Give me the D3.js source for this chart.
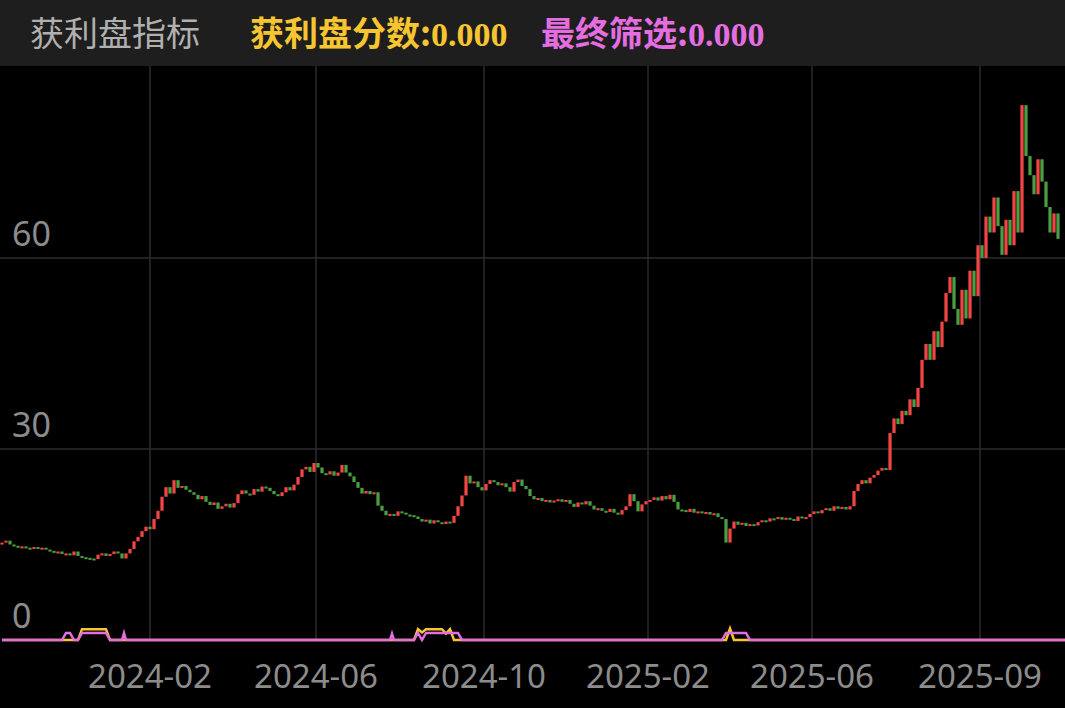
<!DOCTYPE html>
<html><head><meta charset="utf-8">
<script src="https://cdn.jsdelivr.net/npm/d3@7"></script>
<style>body{margin:0;background:#000;}svg{display:block;}</style>
</head><body>
<svg id="chart" width="1065" height="708"></svg>
<script>
// daily closes, oldest first
var closes = [
	15.3,15.6,15.0,14.8,14.6,14.7,14.5,14.4,14.6,14.3,
	14.5,14.2,14.0,13.8,13.9,13.5,13.6,13.3,13.9,13.2,
	13.0,12.9,12.8,12.7,13.4,13.6,13.2,13.5,13.9,13.6,
	12.8,13.6,14.3,15.5,16.2,17.1,17.8,17.4,19.0,20.3,
	22.5,24.0,23.0,25.1,23.9,24.2,23.6,23.2,22.8,22.1,
	22.6,21.7,21.2,21.6,20.6,21.0,21.4,20.8,21.5,22.9,
	23.5,23.0,22.8,23.7,23.3,24.1,23.9,23.4,22.9,22.6,
	23.2,24.0,23.5,24.4,25.6,26.8,27.2,26.4,27.8,27.1,
	26.2,26.0,26.5,25.8,26.3,27.5,26.3,25.7,24.8,23.9,
	23.0,23.4,22.9,23.2,21.1,20.3,19.6,19.8,19.5,20.2,
	20.0,19.7,19.6,19.4,19.0,18.6,18.9,18.3,18.8,18.5,
	18.2,18.6,18.4,19.5,21.0,22.7,25.8,24.6,24.9,24.0,
	23.5,24.5,25.1,24.8,24.3,24.6,24.0,23.3,24.8,25.2,
	24.2,23.7,22.6,22.1,22.3,21.8,22.0,21.6,21.9,22.1,
	21.7,22.0,21.4,20.9,21.6,21.3,21.8,21.1,20.5,20.7,
	20.3,20.1,20.6,20.0,19.7,20.4,21.0,22.9,21.8,20.2,
	21.3,21.8,22.0,22.4,21.9,22.6,22.1,22.8,21.7,20.5,
	20.4,20.1,20.6,20.0,20.2,19.9,20.1,19.7,19.9,19.3,
	19.0,15.3,17.5,18.6,18.1,18.4,17.9,18.2,18.0,18.5,
	18.8,18.6,19.1,19.0,19.3,18.9,19.2,19.0,18.7,19.4,
	19.1,19.3,19.8,20.2,19.9,20.4,20.7,20.3,21.0,20.6,
	20.9,20.5,21.0,23.4,24.5,25.1,24.6,25.5,25.9,26.6,
	27.0,26.7,32.5,34.8,33.9,36.0,35.3,37.8,36.6,39.6,
	44.0,46.5,44.0,48.5,46.0,50.0,54.5,57.0,52.0,49.5,
	55.0,50.5,58.0,54.0,62.0,60.0,66.5,64.0,69.5,65.0,
	60.5,66.0,62.0,70.5,64.0,84.0,76.0,73.0,70.0,75.5,
	72.0,68.0,64.0,67.0,63.0
];
// indicator spikes: [index, value]
var profitScore = [[19,0],[20,1.7],[26,1.7],[27,0],[103,0],[104,1.7],[105,1.2],[106,1.7],[110,1.7],[111,1.0],[112,1.7],[113,0],[181,0],[182,1.8],[183,0]];
var finalPick = [[15,0],[16,1.1],[17,1.1],[18,0],[19,0],[20,1.1],[26,1.1],[27,0],[30,0],[30.5,1.1],[31,0],[97,0],[97.5,1.0],[98,0],[103,0],[104,1.1],[105,0],[106,1.1],[114,1.1],[115,0],[180,0],[181,1.1],[186,1.1],[187,0]];
var yTicks = [0, 30, 60];
var xTickIdx = [37.5, 79, 121, 162, 203, 245];
var xTickLabels = ['2024-02','2024-06','2024-10','2025-02','2025-06','2025-09'];

var svg = d3.select('#chart');
var W = 1065, topY = 66, bottomY = 640;

var x = d3.scaleLinear().domain([0, closes.length]).range([0, closes.length*4]);
var y = d3.scaleLinear().domain([0, 90.15]).range([bottomY, topY]);

// header
svg.append('rect').attr('width', W).attr('height', topY).attr('fill', '#1e1e1e');
var head = svg.append('text').attr('y', 46).attr('font-size', 34);
head.append('tspan').attr('x', 30).attr('fill', '#b0b0b0')
	.attr('font-family', 'Noto Sans CJK SC').text('获利盘指标');
var t1 = head.append('tspan').attr('x', 250).attr('fill', '#f6c52f').attr('font-weight', 'bold');
t1.append('tspan').attr('font-family', 'Noto Sans CJK SC').text('获利盘分数:');
t1.append('tspan').attr('font-family', 'Liberation Serif').text('0.000');
var t2 = head.append('tspan').attr('x', 541).attr('fill', '#e46ee0').attr('font-weight', 'bold');
t2.append('tspan').attr('font-family', 'Noto Sans CJK SC').text('最终筛选:');
t2.append('tspan').attr('font-family', 'Liberation Serif').text('0.000');

// grid
svg.append('g').selectAll('line').data(yTicks.slice(1)).enter().append('line')
	.attr('x1', 0).attr('x2', W).attr('y1', function(d){ return y(d); }).attr('y2', function(d){ return y(d); })
	.attr('stroke', '#2b2b31').attr('stroke-width', 1.5);
svg.append('g').selectAll('line').data(xTickIdx).enter().append('line')
	.attr('x1', function(d){ return x(d); }).attr('x2', function(d){ return x(d); })
	.attr('y1', topY).attr('y2', bottomY)
	.attr('stroke', '#2b2b31').attr('stroke-width', 1.5);

svg.append('g').selectAll('text').data(yTicks).enter().append('text')
	.attr('x', 12).attr('y', function(d){ return y(d) - 12; })
	.attr('fill', '#8c8c8c').attr('font-size', 34).attr('font-family', 'Noto Sans')
	.text(function(d){ return d; });
svg.append('g').selectAll('text').data(xTickIdx).enter().append('text')
	.attr('x', function(d){ return x(d); }).attr('y', 688).attr('text-anchor', 'middle')
	.attr('fill', '#8c8c8c').attr('font-size', 33).attr('font-family', 'Noto Sans')
	.text(function(d, i){ return xTickLabels[i]; });

// candles (open = previous close)
svg.append('g').selectAll('rect').data(closes).enter().append('rect')
	.attr('x', function(d, i){ return x(i) + 0.4; })
	.attr('width', 3.2)
	.attr('y', function(d, i){ var o = i ? closes[i-1] : d; return y(Math.max(o, d)); })
	.attr('height', function(d, i){ var o = i ? closes[i-1] : d; return Math.max(2, Math.abs(y(o) - y(d))); })
	.attr('fill', function(d, i){ var o = i ? closes[i-1] : d; return d >= o ? '#f44545' : '#4aa041'; });

// indicator lines
function lineData(pts){
	var out = [[0, 0]];
	pts.forEach(function(p){ out.push(p); });
	out.push([closes.length + 2, 0]);
	return out;
}
var line = d3.line().x(function(d){ return x(d[0]) + 2; }).y(function(d){ return y(d[1]); });
svg.append('path').datum(lineData(profitScore)).attr('d', line)
	.attr('fill', 'none').attr('stroke', '#f6c52f').attr('stroke-width', 2.5);
svg.append('path').datum(lineData(finalPick)).attr('d', line)
	.attr('fill', 'none').attr('stroke', '#e46ee0').attr('stroke-width', 2.5);
</script>
</body></html>
